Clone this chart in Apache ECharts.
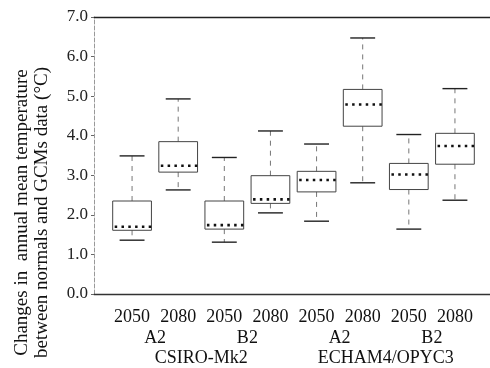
<!DOCTYPE html>
<html>
<head>
<meta charset="utf-8">
<script src="https://cdn.jsdelivr.net/npm/echarts@6/dist/echarts.min.js"></script>
<style>
  html, body { margin: 0; padding: 0; background: #fff; }
  #chart { width: 490px; height: 368px; }
</style>
</head>
<body>
<div id="chart"></div>
<script>
const years = ['2050', '2080', '2050', '2080', '2050', '2080', '2050', '2080'];
const scenarios = ['A2', 'B2', 'A2', 'B2'];
const models = ['CSIRO-Mk2', 'ECHAM4/OPYC3'];

// degC
const whiskerLow = [1.36, 2.63, 1.31, 2.05, 1.84, 2.81, 1.64, 2.37];
const boxLow = [1.61, 3.08, 1.64, 2.29, 2.58, 4.24, 2.64, 3.28];
const middle = [1.70, 3.24, 1.74, 2.39, 2.88, 4.79, 3.02, 3.74];
const boxHigh = [2.35, 3.85, 2.35, 2.99, 3.10, 5.17, 3.30, 4.06];
const whiskerHigh = [3.49, 4.93, 3.45, 4.12, 3.79, 6.47, 4.03, 5.19];

const yTicks = [0, 1, 2, 3, 4, 5, 6, 7];

const font = '"Liberation Serif", "DejaVu Serif", serif';

const boxData = years.map((y, i) => [i, whiskerLow[i], boxLow[i], middle[i], boxHigh[i], whiskerHigh[i]]);

const renderBox = (params, api) => {
    const x = api.value(0);
    const band = api.size([1, 0])[0];
    const half = band * 0.42;
    const capHalf = band * 0.27;
    const pWl = api.coord([x, api.value(1)]);
    const pBl = api.coord([x, api.value(2)]);
    const pMid = api.coord([x, api.value(3)]);
    const pBh = api.coord([x, api.value(4)]);
    const pWh = api.coord([x, api.value(5)]);
    const cx = pMid[0];
    return {
        type: 'group',
        children: [
            {
                type: 'line',
                shape: { x1: cx, y1: pBh[1], x2: cx, y2: pWh[1] },
                style: { stroke: '#777', lineWidth: 1, lineDash: [5, 5] }
            },
            {
                type: 'line',
                shape: { x1: cx, y1: pBl[1], x2: cx, y2: pWl[1] },
                style: { stroke: '#777', lineWidth: 1, lineDash: [5, 5] }
            },
            {
                type: 'line',
                shape: { x1: cx - capHalf, y1: pWh[1], x2: cx + capHalf, y2: pWh[1] },
                style: { stroke: '#222', lineWidth: 1.4 }
            },
            {
                type: 'line',
                shape: { x1: cx - capHalf, y1: pWl[1], x2: cx + capHalf, y2: pWl[1] },
                style: { stroke: '#222', lineWidth: 1.4 }
            },
            {
                type: 'rect',
                shape: { x: cx - half, y: pBh[1], width: half * 2, height: pBl[1] - pBh[1] },
                style: { fill: 'none', stroke: '#444', lineWidth: 1 }
            },
            {
                type: 'line',
                shape: { x1: cx - half + 2, y1: pMid[1], x2: cx + half, y2: pMid[1] },
                style: { stroke: '#111', lineWidth: 2.6, lineDash: [2.5, 4.3] }
            }
        ]
    };
};

const option = {
    animation: false,
    grid: [
        { left: 94, right: 0, top: 17, bottom: 74, outerBoundsMode: 'none' },
        { left: 109, right: 12, top: 17, bottom: 74, outerBoundsMode: 'none' }
    ],
    xAxis: [
        {
            type: 'value', gridIndex: 0, min: 0, max: 1,
            axisLine: { show: true, lineStyle: { color: '#333', width: 1.3 } },
            axisTick: { show: false }, axisLabel: { show: false }, splitLine: { show: false }
        },
        {
            type: 'value', gridIndex: 0, position: 'top', min: 0, max: 1,
            axisLine: { show: true, lineStyle: { color: '#222', width: 1.3 } },
            axisTick: { show: false }, axisLabel: { show: false }, splitLine: { show: false }
        },
        {
            type: 'category', gridIndex: 1, position: 'bottom', data: years,
            axisLine: { show: false }, axisTick: { show: false },
            axisLabel: { margin: 14, fontFamily: font, fontSize: 18, color: '#111', interval: 0 }
        },
        {
            type: 'category', gridIndex: 1, position: 'bottom', offset: 21, data: scenarios,
            axisLine: { show: false }, axisTick: { show: false },
            axisLabel: { margin: 14, fontFamily: font, fontSize: 18, color: '#111', interval: 0 }
        },
        {
            type: 'category', gridIndex: 1, position: 'bottom', offset: 41, data: models,
            axisLine: { show: false }, axisTick: { show: false },
            axisLabel: { margin: 14, fontFamily: font, fontSize: 18, color: '#111', interval: 0 }
        }
    ],
    yAxis: [
        {
            type: 'value', gridIndex: 0, min: yTicks[0], max: yTicks[yTicks.length - 1], interval: 1,
            axisLine: { show: true, lineStyle: { color: '#999', type: 'dashed', width: 1 } },
            axisTick: { show: true, length: 3, lineStyle: { color: '#666' } },
            splitLine: { show: false },
            axisLabel: {
                margin: 6, fontFamily: font, fontSize: 17, color: '#222',
                formatter: (v) => v.toFixed(1)
            },
            name: 'Changes in  annual mean temperature\nbetween normals and GCMs data (\u00b0C)',
            nameLocation: 'middle',
            nameRotate: 90,
            nameGap: 42,
            nameTextStyle: {
                fontFamily: font, fontSize: 19, color: '#111', lineHeight: 20,
                padding: [0, 114, 0, 0]
            }
        },
        {
            type: 'value', gridIndex: 1, min: 0, max: 7, interval: 1,
            axisLine: { show: false }, axisTick: { show: false },
            axisLabel: { show: false }, splitLine: { show: false }
        }
    ],
    series: [
        {
            type: 'custom',
            xAxisIndex: 2,
            yAxisIndex: 1,
            renderItem: renderBox,
            encode: { x: 0, y: [1, 2, 3, 4, 5] },
            data: boxData
        }
    ]
};

const chart = echarts.init(document.getElementById('chart'));
chart.setOption(option);
</script>
</body>
</html>
